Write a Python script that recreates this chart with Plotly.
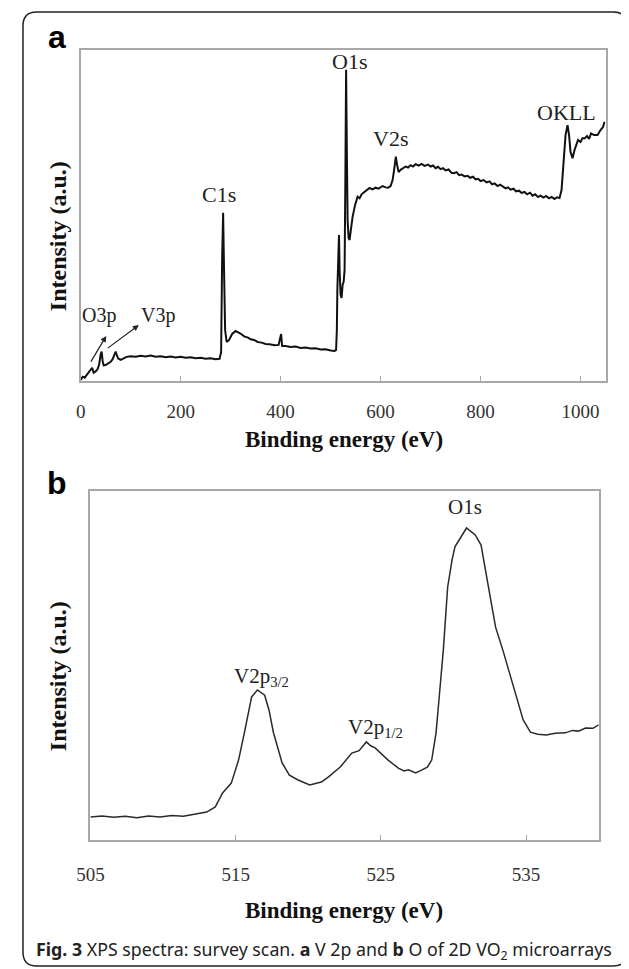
import plotly.graph_objects as go

# the page body adds an 8 px margin, so the figure is drawn a bit smaller and shifted
REF_W, REF_H, OFF = 629, 969, 8
W, H = REF_W - OFF, REF_H - OFF

# panel a: survey scan (binding energy in eV, intensity in a.u.)
survey_ev = [0, 4, 8, 12, 16, 20, 23, 26, 30, 34, 37, 40, 42, 44, 46, 50, 55, 60, 64, 67,
             70, 72, 75, 80, 86, 92, 100, 110, 120, 130, 140, 150, 160, 170, 180, 190, 200,
             210, 220, 230, 240, 250, 260, 270, 278, 281, 283, 285, 286.5, 289, 292, 297,
             303, 310, 318, 328, 335, 340, 347, 354, 362, 370, 378, 388, 396, 399, 401, 403,
             410, 420, 430, 440, 450, 460, 470, 480, 490, 500, 508, 511, 512.5, 513.5, 515,
             516.8, 518, 520, 522, 524, 526, 528, 529.5, 531, 532.5, 534, 536, 538, 541, 544,
             549, 554, 558, 562, 567, 572, 578, 584, 590, 596, 604, 610, 615, 620, 624, 627,
             630.5, 633, 636, 640, 645, 650, 655, 660, 665, 670, 676, 682, 688, 695, 700, 705,
             710, 715, 720, 725, 730, 736, 742, 747, 752, 757, 762, 768, 774, 779, 785, 790,
             795, 800, 806, 812, 818, 823, 828, 834, 839, 844, 850, 855, 860, 866, 871, 877,
             882, 888, 893, 899, 904, 909, 915, 920, 926, 931, 937, 942, 948, 953, 958, 962,
             966, 970, 974, 977, 980, 984, 988, 992, 995, 1000, 1004, 1008, 1013, 1017, 1021,
             1027, 1034, 1040, 1045, 1048]
survey_int = [0.3, 1.3, 1.0, 1.8, 2.3, 3.4, 4.0, 2.5, 2.9, 3.6, 5.0, 8.0, 8.9, 6.0, 4.7, 4.8,
              5.4, 5.8, 6.6, 7.6, 8.9, 8.0, 6.8, 6.4, 6.9, 7.3, 7.5, 7.3, 7.6, 7.4, 7.7, 7.3,
              7.5, 7.2, 7.4, 7.1, 7.3, 7.0, 7.2, 6.9, 7.0, 6.7, 6.9, 6.6, 6.7, 8.8, 36.6, 50.8,
              36.6, 15.4, 11.8, 12.4, 14.2, 15.1, 14.5, 13.4, 13.1, 12.6, 12.4, 11.8, 11.6,
              11.2, 11.1, 10.8, 10.9, 13.6, 14.2, 10.6, 10.6, 10.3, 10.4, 10.0, 10.1, 9.8, 9.9,
              9.5, 9.6, 9.2, 9.1, 9.4, 15.4, 27.5, 39.6, 44.1, 33.5, 26.0, 25.1, 29.0, 29.9,
              33.5, 60.7, 94.0, 69.8, 48.6, 43.2, 42.6, 46.2, 49.6, 53.2, 55.7, 55.2, 56.4,
              57.0, 57.5, 58.3, 57.9, 58.4, 58.1, 58.9, 58.5, 58.4, 58.9, 60.7, 63.7, 67.8,
              65.3, 63.1, 63.8, 64.3, 64.8, 64.5, 65.2, 64.8, 65.5, 65.1, 65.6, 65.0, 65.4,
              64.8, 65.1, 64.3, 64.7, 64.0, 64.3, 63.6, 63.9, 62.9, 62.8, 63.1, 62.2, 62.4,
              61.8, 62.0, 61.4, 61.7, 60.9, 61.1, 60.4, 60.7, 60.0, 60.3, 59.4, 59.7, 58.9,
              59.3, 58.8, 58.2, 58.5, 57.8, 58.1, 57.3, 57.5, 56.8, 57.1, 56.4, 56.9, 56.0,
              56.4, 55.6, 56.0, 55.4, 55.9, 55.2, 55.6, 55.0, 55.5, 55.3, 57.7, 66.8, 74.3,
              77.3, 74.3, 69.2, 67.3, 69.8, 71.9, 72.8, 72.2, 73.4, 73.3, 74.0, 73.1, 74.8,
              74.3, 74.3, 75.8, 76.7, 78.3]
survey_ticks = [0, 200, 400, 600, 800, 1000]

# panel b: high resolution V 2p / O 1s region
hr_ev = [505.0, 505.8, 506.6, 507.4, 508.2, 509.0, 509.8, 510.6, 511.4, 512.2, 513.0, 513.6,
         514.1, 514.7, 515.2, 515.6, 515.9, 516.1, 516.5, 517.0, 517.3, 517.6, 518.2, 518.7,
         519.3, 520.1, 520.5, 520.9, 521.4, 522.2, 523.0, 523.5, 524.0, 524.3, 524.6, 525.5,
         526.2, 526.6, 526.9, 527.4, 527.8, 528.2, 528.5, 528.8, 529.0, 529.3, 529.6, 529.9,
         530.1, 530.5, 530.9, 531.5, 531.9, 532.2, 532.6, 532.9, 533.4, 534.0, 534.5, 534.8,
         535.3, 535.8, 536.4, 537.0, 537.7, 538.2, 538.6, 539.1, 539.6, 540.0]
hr_int = [6.6, 6.9, 6.5, 6.8, 6.4, 6.9, 6.6, 7.0, 6.8, 7.3, 8.0, 9.5, 13.5, 16.3, 22.9, 30.7,
          36.4, 41.0, 43.0, 41.5, 37.2, 30.8, 22.1, 18.6, 17.2, 15.8, 16.2, 16.6, 18.1, 20.9,
          24.9, 25.6, 28.1, 27.0, 26.4, 22.9, 20.6, 19.8, 20.1, 19.2, 20.0, 20.9, 22.9, 30.7,
          40.1, 54.4, 72.5, 80.2, 84.0, 86.8, 89.4, 87.4, 84.5, 77.4, 67.9, 61.0, 54.4, 45.8,
          38.1, 34.4, 30.9, 30.3, 30.1, 30.6, 30.7, 31.4, 31.2, 32.1, 32.0, 33.0]
hr_ticks = [505, 515, 525, 535]

SERIF = "Liberation Serif, Times New Roman, serif"
AXIS_GREY = "#a8a8a8"


def px_x(x):
    """Reference-image pixel column -> paper fraction."""
    return (x - OFF) / W


def px_y(y):
    """Reference-image pixel row -> paper fraction."""
    return 1 - (y - OFF) / H


def paper_note(fig, text, x, y, font, **kw):
    """Text placed by pixel position of its centre."""
    fig.add_annotation(text=text, x=px_x(x), y=px_y(y), xref="paper", yref="paper",
                       xanchor=kw.pop("xanchor", "center"), yanchor="middle",
                       showarrow=False, font=font, **kw)


fig = go.Figure()
fig.add_trace(go.Scatter(x=survey_ev, y=survey_int, mode="lines",
                         line=dict(color="#111111", width=2), xaxis="x", yaxis="y"))
fig.add_trace(go.Scatter(x=hr_ev, y=hr_int, mode="lines",
                         line=dict(color="#2a2a2a", width=1.5), xaxis="x2", yaxis="y2"))

xcommon = dict(showgrid=False, zeroline=False, showline=True, linecolor=AXIS_GREY,
               linewidth=2, mirror=True, ticks="inside", ticklen=5, tickwidth=1,
               tickcolor=AXIS_GREY, tickfont=dict(family=SERIF, size=19, color="#333333"))
ycommon = dict(showgrid=False, zeroline=False, showline=True, linecolor=AXIS_GREY,
               linewidth=2, mirror=True, showticklabels=False, ticks="")

fig.update_layout(
    width=W, height=H,
    margin=dict(l=0, r=0, t=0, b=0),
    paper_bgcolor="white", plot_bgcolor="white",
    showlegend=False,
    xaxis=dict(domain=[px_x(68), px_x(605)], range=[0, 1050], tickvals=survey_ticks,
               ticklabelstandoff=12, anchor="y", **xcommon),
    yaxis=dict(domain=[px_y(381), px_y(50)], range=[0, 100], anchor="x", **ycommon),
    xaxis2=dict(domain=[px_x(78), px_x(598)], range=[505, 540], tickvals=hr_ticks,
                ticklabelstandoff=16, anchor="y2", **xcommon),
    yaxis2=dict(domain=[px_y(840), px_y(491)], range=[0, 100], anchor="x2", **ycommon),
)

# peak labels, panel a
peak_font = dict(family=SERIF, size=22, color="#222222")
small_font = dict(family=SERIF, size=20, color="#222222")
for txt, x, y, f in [("O1s", 537, 96.4, peak_font), ("C1s", 277, 56.2, peak_font),
                     ("V2s", 619, 73.4, peak_font), ("OKLL", 971, 81.0, peak_font),
                     ("O3p", 37, 19.9, small_font), ("V3p", 154, 19.9, small_font)]:
    fig.add_annotation(text=txt, x=x, y=y, xref="x", yref="y", showarrow=False, font=f,
                       xanchor="center", yanchor="middle")

# arrows pointing at the O3p / V3p features
for (x0, y0, x1, y1) in [(18.7, 5.4, 51.2, 13.6), (51.2, 9.6, 116.4, 16.9)]:
    fig.add_annotation(x=x1, y=y1, ax=x0, ay=y0, xref="x", yref="y", axref="x", ayref="y",
                       showarrow=True, arrowhead=2, arrowsize=1, arrowwidth=1.2,
                       arrowcolor="#222222", text="")

# peak labels, panel b
hr_font = dict(family=SERIF, size=21, color="#222222")
for txt, x, y in [("O1s", 530.8, 95.4), ("V2p<sub>3/2</sub>", 516.8, 46.7),
                  ("V2p<sub>1/2</sub>", 524.6, 32.1)]:
    fig.add_annotation(text=txt, x=x, y=y, xref="x2", yref="y2", showarrow=False,
                       font=hr_font, xanchor="center", yanchor="middle")

# axis titles
title_font = dict(family=SERIF, size=23, color="#111111")
ytitle_font = dict(family=SERIF, size=24, color="#111111")
for yc in [236, 676]:
    paper_note(fig, "<b>Intensity (a.u.)</b>", 45, yc, ytitle_font, textangle=-90)
for yc in [440, 910]:
    paper_note(fig, "<b>Binding energy (eV)</b>", 337, yc, title_font)

# panel letters
letter_font = dict(family="Liberation Sans, Arial, sans-serif", size=32, color="black")
for txt, yc in [("a", 37), ("b", 483)]:
    paper_note(fig, f"<b>{txt}</b>", 44, yc, letter_font)

# figure caption
paper_note(fig, "<b>Fig. 3</b> XPS spectra: survey scan. <b>a</b> V 2p and <b>b</b> O of 2D "
                "VO<sub>2</sub> microarrays",
           20, 950, dict(family="Noto Sans, Open Sans, sans-serif", size=17.8, color="#222222"),
           xanchor="left")

# rounded outer frame
x0, x1, y0, y1, r = 9, 627, 12, 966, 14
path = (f"M {px_x(x0 + r)},{px_y(y0)} L {px_x(x1 - r)},{px_y(y0)} "
        f"Q {px_x(x1)},{px_y(y0)} {px_x(x1)},{px_y(y0 + r)} "
        f"L {px_x(x1)},{px_y(y1 - r)} Q {px_x(x1)},{px_y(y1)} {px_x(x1 - r)},{px_y(y1)} "
        f"L {px_x(x0 + r)},{px_y(y1)} Q {px_x(x0)},{px_y(y1)} {px_x(x0)},{px_y(y1 - r)} "
        f"L {px_x(x0)},{px_y(y0 + r)} Q {px_x(x0)},{px_y(y0)} {px_x(x0 + r)},{px_y(y0)} Z")
fig.add_shape(type="path", path=path, xref="paper", yref="paper",
              line=dict(color="#222222", width=1.5))

fig.write_html("out.html")
